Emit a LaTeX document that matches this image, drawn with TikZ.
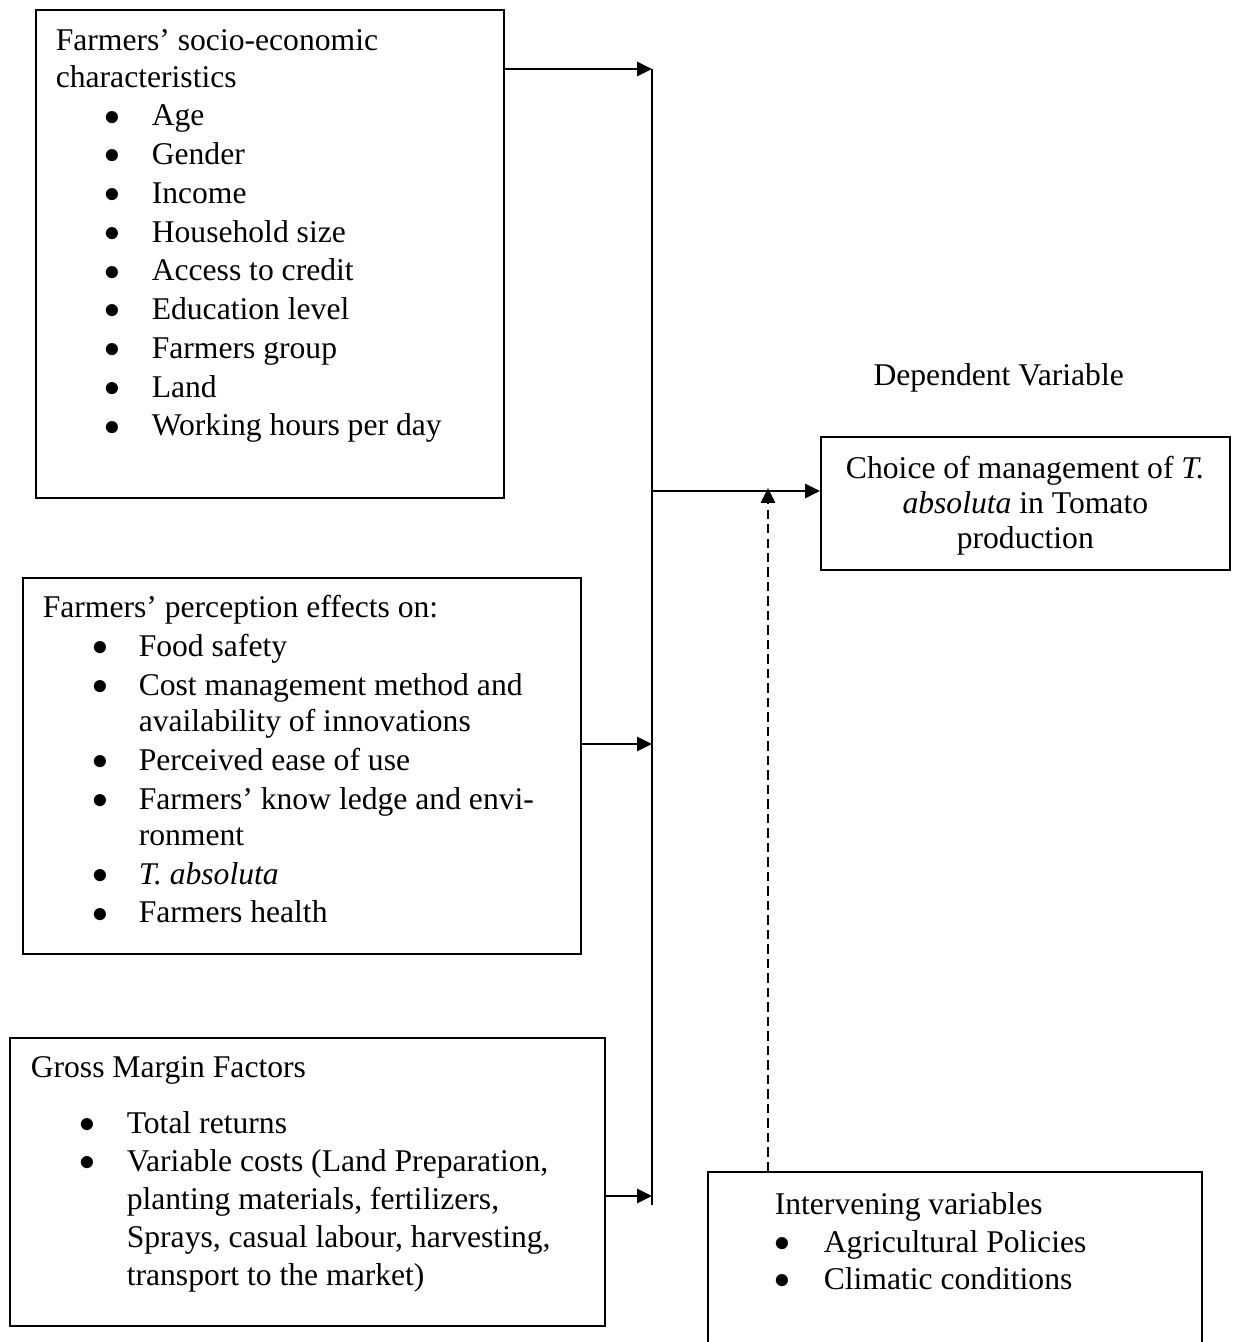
\documentclass[tikz,border=0pt]{standalone}
\usepackage{fontspec}
\setmainfont{Liberation Serif}
\usetikzlibrary{arrows.meta,positioning,calc}

% one pixel of the layout grid
\newlength{\px}
\setlength{\px}{0.01333cm}
% heading line of a box: left offset, text
\newcommand{\headln}[2]{\par\hangindent=#1\px\hangafter=0\noindent #2}
% bullet line of a box: bullet offset, text offset, text
\newcommand{\bigdot}{\raisebox{0.3pt}{$\bullet$}}
\newcommand{\bitem}[3]{\par\hangindent=#2\px\hangafter=0\noindent\llap{\makebox[\dimexpr#2\px-#1\px\relax][l]{\bigdot}}#3}
% body of a box: width, height, contents
\newcommand{\boxbody}[3]{\parbox[c][#2\px][t]{#1\px}{\setlength{\parskip}{0.9pt}#3}}

\begin{document}
\begin{tikzpicture}[x=0.01333cm, y=-0.01333cm,
  flow/.style={-{Triangle[length=5.6pt,width=5.4pt]}, line width=0.5pt},
  frame/.style={draw, line width=0.6pt, rectangle, inner sep=0pt, anchor=north west},
  every node/.style={font=\fontsize{12}{13.8}\selectfont}
]
  \useasboundingbox (0,0) rectangle (1234,1342);

  % --- CAJAS DE VARIABLES INDEPENDIENTES ---
  % Caracteristicas socio-economicas
  \node[frame] (socio) at (35,9) {\boxbody{468}{488}{%
    \headln{20}{\rule{0pt}{41\px}Farmers’ socio-economic\newline characteristics}
    \bitem{69}{116}{Age}
    \bitem{69}{116}{Gender}
    \bitem{69}{116}{Income}
    \bitem{69}{116}{Household size}
    \bitem{69}{116}{Access to credit}
    \bitem{69}{116}{Education level}
    \bitem{69}{116}{Farmers group}
    \bitem{69}{116}{Land}
    \bitem{69}{116}{Working hours per day}}};

  % Percepcion de los agricultores
  \node[frame] (percep) at (22,577) {\boxbody{558}{376}{%
    \headln{20}{\rule{0pt}{40\px}Farmers’ perception effects on:}
    \bitem{70}{116}{Food safety}
    \bitem{70}{116}{Cost management method and\newline availability of innovations}
    \bitem{70}{116}{Perceived ease of use}
    \bitem{70}{116}{Farmers’ know ledge and envi-\newline ronment}
    \bitem{70}{116}{\textit{T. absoluta}}
    \bitem{70}{116}{Farmers health}}};

  % Margen bruto
  \node[frame] (gross) at (9,1037) {\boxbody{595}{288}{%
    \fontsize{12}{14.4}\selectfont\setlength{\parskip}{0pt}%
    \headln{21}{\rule{0pt}{40\px}Gross Margin Factors}\par\vspace{18\px}
    \bitem{70}{117}{Total returns}
    \bitem{70}{117}{Variable costs (Land Preparation,\newline planting materials, fertilizers,\newline Sprays, casual labour, harvesting,\newline transport to the market)}}};

  % --- VARIABLE DEPENDIENTE E INTERVINIENTE ---
  \node[anchor=base west, inner sep=0pt] (deplbl) at (873,385) {Dependent Variable};
  \node[frame] (choice) at (820,436) {\parbox[c][133\px][t]{409\px}{\centering
    \fontsize{12}{13.3}\selectfont
    \rule{0pt}{42\px}Choice of management of \textit{T.}\\\textit{absoluta} in Tomato\\production}};

  \node[frame] (interv) at (707,1171) {\boxbody{494}{220}{%
    \fontsize{12}{13.6}\selectfont\setlength{\parskip}{0.6pt}%
    \headln{67}{\rule{0pt}{43\px}Intervening variables}
    \bitem{67}{116}{Agricultural Policies}
    \bitem{67}{116}{Climatic conditions}}};

  % --- CONEXIONES ---
  \coordinate (trunktop) at (652,69);
  \coordinate (trunkbot) at (652,1205);
  \coordinate (jperc) at (652,744);
  \coordinate (jgross) at (652,1196);
  \coordinate (jchoice) at (652,491);
  \coordinate (dtip) at (768,488);

  \draw[line width=0.5pt] (trunktop) -- (trunkbot);
  \draw[flow] (socio.east |- trunktop) -- (trunktop);
  \draw[flow] (percep.east |- jperc) -- (jperc);
  \draw[flow] (gross.east |- jgross) -- (jgross);
  \draw[flow] (jchoice) -- (choice.west |- jchoice);

  % Efecto de las variables intervinientes
  \draw[flow, dash pattern=on 3.5pt off 2pt] (interv.north -| dtip) -- (dtip);

\end{tikzpicture}
\end{document}
